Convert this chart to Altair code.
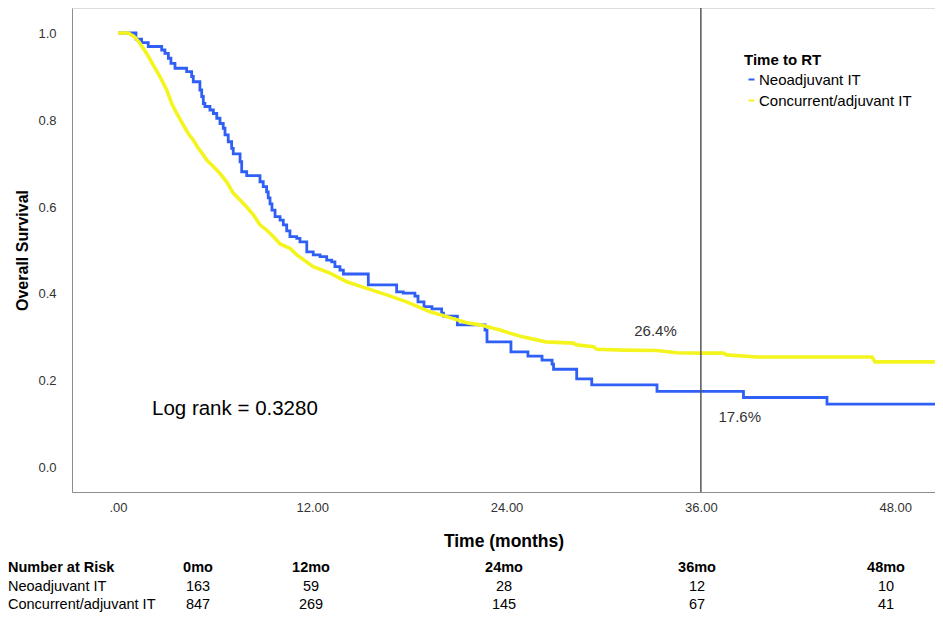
import altair as alt
import pandas as pd

# ---- data ----
groups = ["Neoadjuvant IT", "Concurrent/adjuvant IT"]

neo_t = [0, 1.11, 1.46, 1.87, 2.70, 2.90, 3.11, 3.27, 3.52, 4.24, 4.55, 4.65, 5.06, 5.17, 5.27, 5.37,
         5.68, 5.89, 6.10, 6.30, 6.50, 6.61, 6.81, 7.02, 7.12, 7.54, 7.64, 7.95, 8.77, 8.97, 9.18, 9.28,
         9.39, 9.51, 9.70, 10.01, 10.21, 10.42, 10.62, 11.04, 11.24, 11.66, 12.06, 12.48, 12.89, 13.20,
         13.40, 13.71, 13.92, 15.46, 17.21, 17.62, 18.34, 18.53, 18.90, 19.39, 19.99, 20.10, 20.96,
         22.67, 22.79, 24.27, 25.32, 26.19, 26.81, 26.90, 28.33, 29.26, 33.29, 38.63, 43.79, 50.8]
neo_s = [1.0, 0.986, 0.978, 0.969, 0.961, 0.953, 0.942, 0.930, 0.919, 0.911, 0.900, 0.888, 0.869, 0.854,
         0.838, 0.831, 0.823, 0.815, 0.804, 0.792, 0.781, 0.766, 0.750, 0.735, 0.722, 0.704, 0.681, 0.672,
         0.658, 0.647, 0.635, 0.621, 0.607, 0.593, 0.578, 0.570, 0.559, 0.545, 0.532, 0.528, 0.520, 0.497,
         0.490, 0.486, 0.478, 0.474, 0.463, 0.455, 0.446, 0.421, 0.405, 0.402, 0.395, 0.382, 0.371, 0.366,
         0.356, 0.349, 0.329, 0.317, 0.290, 0.267, 0.257, 0.248, 0.239, 0.227, 0.205, 0.191, 0.176, 0.162,
         0.147, 0.147]

con_t = [0, 0.64, 1.05, 1.36, 1.77, 2.18, 2.59, 3.01, 3.32, 3.63, 4.03, 4.34, 4.65, 4.96, 5.27, 5.48,
         5.89, 6.30, 6.71, 7.12, 7.54, 7.95, 8.36, 8.77, 9.18, 9.59, 10.01, 10.62, 11.04, 12.06, 13.09,
         14.13, 15.36, 16.60, 17.83, 19.27, 20.30, 21.54, 22.36, 23.59, 24.92, 26.42, 28.11, 28.33, 29.36,
         29.57, 31.21, 33.27, 34.51, 36.05, 37.39, 37.60, 39.45, 46.57, 46.76, 50.8]
con_s = [1.0, 1.0, 0.990, 0.976, 0.953, 0.926, 0.900, 0.869, 0.838, 0.815, 0.789, 0.769, 0.754, 0.735,
         0.720, 0.708, 0.693, 0.677, 0.658, 0.632, 0.616, 0.600, 0.582, 0.559, 0.547, 0.532, 0.515, 0.505,
         0.490, 0.463, 0.448, 0.428, 0.413, 0.398, 0.382, 0.359, 0.348, 0.334, 0.329, 0.317, 0.302, 0.290,
         0.287, 0.283, 0.279, 0.273, 0.271, 0.270, 0.265, 0.264, 0.264, 0.260, 0.255, 0.255, 0.244, 0.244]

x_ticks = [0, 12, 24, 36, 48]
y_ticks = [0.0, 0.2, 0.4, 0.6, 0.8, 1.0]
landmark = 36
log_rank_text = "Log rank = 0.3280"
ann_text = ["26.4%", "17.6%"]
ann_t = [33.2, 38.4]
ann_s = [0.315, 0.117]
log_t = [2.1]
log_s = [0.136]

risk_header = ["Number at Risk", "0mo", "12mo", "24mo", "36mo", "48mo"]
risk_neo = [163, 59, 28, 12, 10]
risk_con = [847, 269, 145, 67, 41]

# ---- layout / style (not data) ----
colors = ["#2f5ff5", "#f4f41e"]
FONT = "Liberation Sans, Arial, sans-serif"
W, H = 863, 484
col_px = [126, 239, 432, 625, 814]
row_py = [560, 579, 597]
label_px = -64

df_neo = pd.DataFrame({"t": neo_t, "S": neo_s, "group": groups[0]})
df_con = pd.DataFrame({"t": con_t, "S": con_s, "group": groups[1]})

xs = alt.Scale(domain=[-2.84, 50.46], nice=False, zero=False)
ys = alt.Scale(domain=[-0.0552, 1.0575], nice=False, zero=False)

xaxis = alt.Axis(values=x_ticks, title="Time (months)", ticks=False, grid=False,
                 labelExpr="datum.value == 0 ? '.00' : format(datum.value, '.2f')",
                 labelFontSize=13, labelColor="#333", labelPadding=9,
                 titleFontSize=17.5, titleFontWeight="bold", titleColor="#000", titlePadding=18,
                 domainColor="#8c8c8c", labelFont=FONT, titleFont=FONT)
yaxis = alt.Axis(values=y_ticks, format=".1f", title="Overall Survival", ticks=False, grid=False,
                 labelFontSize=13, labelColor="#333", labelPadding=16,
                 titleFontSize=16, titleFontWeight="bold", titleColor="#000", titlePadding=7,
                 domainColor="#8c8c8c", labelFont=FONT, titleFont=FONT)

color = alt.Color("group:N", scale=alt.Scale(domain=groups, range=colors),
                  legend=alt.Legend(title="Time to RT", orient="none", legendX=672, legendY=45,
                                    symbolType="stroke", symbolStrokeWidth=2, symbolSize=36,
                                    titleFontSize=15, titleFontWeight="bold", titleColor="#000",
                                    labelFontSize=15, labelColor="#000", labelFont=FONT, titleFont=FONT,
                                    rowPadding=5, titlePadding=4, labelOffset=0, padding=0))

line_neo = alt.Chart(df_neo).mark_line(interpolate="step-after", strokeWidth=2.8, clip=True).encode(
    x=alt.X("t:Q", scale=xs, axis=xaxis),
    y=alt.Y("S:Q", scale=ys, axis=yaxis),
    color=color,
)
line_con = alt.Chart(df_con).mark_line(interpolate="linear", strokeWidth=3.6, clip=True).encode(
    x="t:Q", y="S:Q", color=color,
)

rule = alt.Chart(pd.DataFrame({"t": [landmark]})).mark_rule(color="#555555", strokeWidth=1.5).encode(
    x="t:Q")

ann = alt.Chart(pd.DataFrame({"t": ann_t, "S": ann_s, "txt": ann_text})).mark_text(
    fontSize=15, color="#333", font=FONT, align="center", baseline="middle").encode(
    x="t:Q", y="S:Q", text="txt:N")

logr = alt.Chart(pd.DataFrame({"t": log_t, "S": log_s, "txt": [log_rank_text]})).mark_text(
    fontSize=20.5, color="#000", font=FONT, align="left", baseline="middle").encode(
    x="t:Q", y="S:Q", text="txt:N")

# number-at-risk table
hdr = pd.DataFrame({"px": [label_px] + col_px, "py": [row_py[0]] * 6, "txt": risk_header})
hdr_left = alt.Chart(hdr.iloc[:1]).mark_text(fontSize=14.5, fontWeight="bold", font=FONT, align="left",
                                             baseline="middle", color="#000").encode(
    x=alt.X("px:Q", scale=None, axis=None), y=alt.Y("py:Q", scale=None, axis=None), text="txt:N")
hdr_cols = alt.Chart(hdr.iloc[1:]).mark_text(fontSize=14.5, fontWeight="bold", font=FONT, align="center",
                                             baseline="middle", color="#000").encode(
    x=alt.X("px:Q", scale=None, axis=None), y=alt.Y("py:Q", scale=None, axis=None), text="txt:N")

rows = pd.DataFrame({"px": [label_px, label_px], "py": row_py[1:], "txt": groups})
row_lbl = alt.Chart(rows).mark_text(fontSize=14.5, font=FONT, align="left", baseline="middle",
                                    color="#000").encode(
    x=alt.X("px:Q", scale=None, axis=None), y=alt.Y("py:Q", scale=None, axis=None), text="txt:N")

nums = pd.DataFrame({"px": col_px * 2, "py": [row_py[1]] * 5 + [row_py[2]] * 5,
                     "txt": [str(v) for v in risk_neo + risk_con]})
num_txt = alt.Chart(nums).mark_text(fontSize=14.5, font=FONT, align="center", baseline="middle",
                                    color="#000").encode(
    x=alt.X("px:Q", scale=None, axis=None), y=alt.Y("py:Q", scale=None, axis=None), text="txt:N")

chart = alt.layer(line_neo, line_con, rule, ann, logr, hdr_left, hdr_cols, row_lbl, num_txt).properties(
    width=W, height=H,
    autosize=alt.AutoSizeParams(type="none"),
    padding={"left": 64, "top": 0, "right": 0, "bottom": 123},
).configure_view(stroke=None).configure(font=FONT, background="white")

chart.save("out.html", embed_options={"renderer": "svg", "actions": False})
